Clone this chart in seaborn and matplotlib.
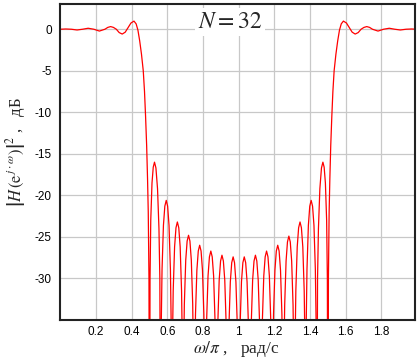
import pandas as pd
import matplotlib
matplotlib.use("Agg")
import matplotlib.pyplot as plt
import seaborn as sns

# --- values (omega/pi, dB) ---
# passband 0 .. 0.5 plus the transition edge
pass_lo_w = [0.000, 0.031, 0.062, 0.094, 0.125, 0.156, 0.188, 0.219, 0.250,
             0.266, 0.282, 0.298, 0.314, 0.330, 0.347, 0.364, 0.380, 0.396,
             0.413, 0.425, 0.435, 0.445, 0.455, 0.465, 0.472, 0.478, 0.484,
             0.489, 0.493, 0.497, 0.500]
pass_lo_db = [0.00, 0.03, 0.00, -0.09, 0.00, 0.12, 0.00, -0.22, 0.00,
              0.22, 0.32, 0.22, 0.00, -0.40, -0.58, -0.35, 0.20, 0.75,
              0.98, 0.65, -0.10, -1.40, -3.00, -5.00, -7.50, -10.5, -14.0,
              -18.0, -22.0, -30.0, -60.0]

# stopband side lobes 0.5 .. 1.5 (nulls drop off the bottom of the axes)
stop_w = [
    0.5030, 0.5070, 0.5140, 0.5210, 0.5280, 0.5360, 0.5450, 0.5530, 0.5580, 0.5625,
    0.5664, 0.5703, 0.5781, 0.5859, 0.5938, 0.6016, 0.6094, 0.6172, 0.6211, 0.6250,
    0.6289, 0.6328, 0.6406, 0.6484, 0.6562, 0.6641, 0.6719, 0.6797, 0.6836, 0.6875,
    0.6914, 0.6953, 0.7031, 0.7109, 0.7188, 0.7266, 0.7344, 0.7422, 0.7461, 0.7500,
    0.7539, 0.7578, 0.7656, 0.7734, 0.7812, 0.7891, 0.7969, 0.8047, 0.8086, 0.8125,
    0.8164, 0.8203, 0.8281, 0.8359, 0.8438, 0.8516, 0.8594, 0.8672, 0.8711, 0.8750,
    0.8789, 0.8828, 0.8906, 0.8984, 0.9062, 0.9141, 0.9219, 0.9297, 0.9336, 0.9375,
    0.9414, 0.9453, 0.9531, 0.9609, 0.9688, 0.9766, 0.9844, 0.9922, 0.9961, 1.0000,
    1.0039, 1.0078, 1.0156, 1.0234, 1.0312, 1.0391, 1.0469, 1.0547, 1.0586, 1.0625,
    1.0664, 1.0703, 1.0781, 1.0859, 1.0938, 1.1016, 1.1094, 1.1172, 1.1211, 1.1250,
    1.1289, 1.1328, 1.1406, 1.1484, 1.1562, 1.1641, 1.1719, 1.1797, 1.1836, 1.1875,
    1.1914, 1.1953, 1.2031, 1.2109, 1.2188, 1.2266, 1.2344, 1.2422, 1.2461, 1.2500,
    1.2539, 1.2578, 1.2656, 1.2734, 1.2812, 1.2891, 1.2969, 1.3047, 1.3086, 1.3125,
    1.3164, 1.3203, 1.3281, 1.3359, 1.3438, 1.3516, 1.3594, 1.3672, 1.3711, 1.3750,
    1.3789, 1.3828, 1.3906, 1.3984, 1.4062, 1.4141, 1.4219, 1.4297, 1.4336, 1.4375,
    1.4420, 1.4470, 1.4550, 1.4640, 1.4720, 1.4790, 1.4860, 1.4930, 1.4970, 1.5000,
]
stop_db = [
    -30.0, -23.0, -18.5, -16.6, -16.0, -16.7, -19.2, -24.0, -30.0, -60,
    -34.8, -28.9, -23.6, -21.3, -20.6, -21.3, -23.6, -28.9, -34.8, -60,
    -37.4, -31.5, -26.2, -23.9, -23.2, -23.9, -26.2, -31.5, -37.4, -60,
    -39.0, -33.1, -27.8, -25.5, -24.8, -25.5, -27.8, -33.1, -39.0, -60,
    -40.2, -34.3, -29.0, -26.7, -26.0, -26.7, -29.0, -34.3, -40.2, -60,
    -40.9, -35.0, -29.7, -27.4, -26.7, -27.4, -29.7, -35.0, -40.9, -60,
    -41.4, -35.5, -30.2, -27.9, -27.2, -27.9, -30.2, -35.5, -41.4, -60,
    -41.6, -35.7, -30.4, -28.1, -27.4, -28.1, -30.4, -35.7, -41.6, -60,
    -41.6, -35.7, -30.4, -28.1, -27.4, -28.1, -30.4, -35.7, -41.6, -60,
    -41.4, -35.5, -30.2, -27.9, -27.2, -27.9, -30.2, -35.5, -41.4, -60,
    -40.9, -35.0, -29.7, -27.4, -26.7, -27.4, -29.7, -35.0, -40.9, -60,
    -40.2, -34.3, -29.0, -26.7, -26.0, -26.7, -29.0, -34.3, -40.2, -60,
    -39.1, -33.2, -27.9, -25.6, -24.9, -25.6, -27.9, -33.2, -39.1, -60,
    -37.4, -31.5, -26.2, -23.9, -23.2, -23.9, -26.2, -31.5, -37.4, -60,
    -34.8, -28.9, -23.6, -21.3, -20.6, -21.3, -23.6, -28.9, -34.8, -60,
    -30.0, -24.0, -19.2, -16.7, -16.0, -16.6, -18.5, -23.0, -30.0, -60,
]

# transition edge and passband 1.5 .. 2
pass_hi_w = [1.503, 1.507, 1.511, 1.516, 1.522, 1.528, 1.535, 1.545, 1.555,
             1.565, 1.575, 1.587, 1.604, 1.620, 1.636, 1.653, 1.670, 1.686,
             1.702, 1.718, 1.734, 1.750, 1.781, 1.812, 1.844, 1.875, 1.906,
             1.938, 1.969, 2.000]
pass_hi_db = [-30.0, -22.0, -18.0, -14.0, -10.5, -7.5, -5.0, -3.0, -1.4,
              -0.10, 0.65, 0.98, 0.75, 0.20, -0.35, -0.58, -0.40, 0.00,
              0.22, 0.32, 0.22, 0.00, -0.22, 0.00, 0.12, 0.00, -0.09,
              0.00, 0.03, 0.00]

x_ticks = [0.2, 0.4, 0.6, 0.8, 1.0, 1.2, 1.4, 1.6, 1.8]
x_labels = ["0.2", "0.4", "0.6", "0.8", "1", "1.2", "1.4", "1.6", "1.8"]
y_ticks = [0, -5, -10, -15, -20, -25, -30]

df = pd.DataFrame({
    "w": pass_lo_w + stop_w + pass_hi_w,
    "db": pass_lo_db + stop_db + pass_hi_db,
})

# --- style ---
sns.set_theme(style="white")
plt.rcParams["font.family"] = ["Liberation Sans", "DejaVu Sans"]
plt.rcParams["axes.unicode_minus"] = False
plt.rcParams["mathtext.fontset"] = "stix"

fig = plt.figure(figsize=(4.2, 3.6), dpi=100)
ax = fig.add_axes([0.1436, 0.1111, 0.8452, 0.8769])

sns.lineplot(data=df, x="w", y="db", ax=ax, color="#ff0000",
             linewidth=0.9, sort=False, estimator=None)

ax.set_xlim(0, 1.99)
ax.set_ylim(-35, 3)
ax.set_xticks(x_ticks)
ax.set_xticklabels(x_labels)
ax.set_yticks(y_ticks)
ax.set_yticklabels([str(v) for v in y_ticks])
ax.grid(True, color="#c8c8c8", linewidth=0.9)
ax.set_axisbelow(True)
ax.tick_params(axis="x", direction="in", length=3, width=1, colors="black",
               labelsize=8.5, pad=4)
ax.tick_params(axis="y", direction="out", length=2, width=1, colors="black",
               labelsize=8.5, pad=4)
for side in ["left", "bottom", "top", "right"]:
    ax.spines[side].set_color("#222222")
    ax.spines[side].set_linewidth(1.5)

ax.set_xlabel("")
ax.set_ylabel("")

# axis titles (serif, Mathcad look)
fig.text(236 / 420, 1 - 349 / 360, r"$\omega/\pi$ ,   рад/с",
         ha="center", va="center", fontsize=12.5,
         family=["Liberation Serif", "DejaVu Serif"])
fig.text(16 / 420, 1 - 152 / 360,
         r"$\left|H\,(\mathrm{e}^{\,j\cdot\omega})\right|^2$ ,   дБ",
         rotation=90, ha="center", va="center", fontsize=12,
         family=["Liberation Serif", "DejaVu Serif"])

ax.text(230 / 420, 1 - 22 / 360, r"$N = 32$", transform=fig.transFigure,
        ha="center", va="center", fontsize=17,
        bbox=dict(facecolor="white", edgecolor="none", pad=2))

fig.savefig("out.png", dpi=100)
